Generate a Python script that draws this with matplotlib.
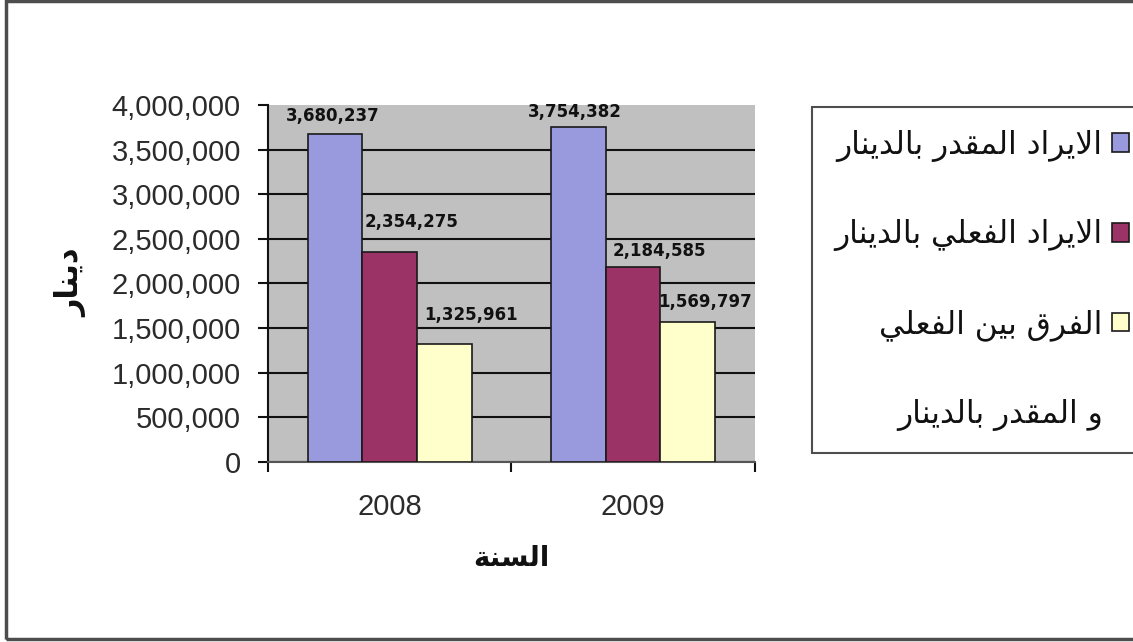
#import libraries
import matplotlib
matplotlib.use('Agg')
import matplotlib.pyplot as plt
import numpy as np
from matplotlib.patches import Rectangle, Patch

plt.rcParams['font.family'] = ['Liberation Sans', 'DejaVu Sans']

#Data Definition
years = ['2008', '2009']
estimated = [3680237, 3754382]
actual = [2354275, 2184585]
difference = [1325961, 1569797]

series_names = ['الايراد المقدر بالدينار',
                'الايراد الفعلي بالدينار',
                'الفرق بين الفعلي']
series_extra_line = 'و المقدر بالدينار'
y_title = 'دينار'
x_title = 'السنة'

#Arabic presentation forms (isolated, final, initial, medial)
FORMS = {
    'ا': ('\ufe8d', '\ufe8e', None, None),
    'ب': ('\ufe8f', '\ufe90', '\ufe91', '\ufe92'),
    'ة': ('\ufe93', '\ufe94', None, None),
    'د': ('\ufea9', '\ufeaa', None, None),
    'ر': ('\ufead', '\ufeae', None, None),
    'س': ('\ufeb1', '\ufeb2', '\ufeb3', '\ufeb4'),
    'ع': ('\ufec9', '\ufeca', '\ufecb', '\ufecc'),
    'ف': ('\ufed1', '\ufed2', '\ufed3', '\ufed4'),
    'ق': ('\ufed5', '\ufed6', '\ufed7', '\ufed8'),
    'ل': ('\ufedd', '\ufede', '\ufedf', '\ufee0'),
    'م': ('\ufee1', '\ufee2', '\ufee3', '\ufee4'),
    'ن': ('\ufee5', '\ufee6', '\ufee7', '\ufee8'),
    'و': ('\ufeed', '\ufeee', None, None),
    'ي': ('\ufef1', '\ufef2', '\ufef3', '\ufef4'),
}


def joins_next(u):
    return u != 'لا' and u in FORMS and FORMS[u][2] is not None


def shape_word(word):
    units = []
    i = 0
    while i < len(word):
        if word[i] == 'ل' and i + 1 < len(word) and word[i + 1] == 'ا':
            units.append('لا')
            i += 2
        else:
            units.append(word[i])
            i += 1
    out = []
    for k, u in enumerate(units):
        prev_j = k > 0 and joins_next(units[k - 1])
        next_j = k + 1 < len(units) and joins_next(u)
        if u == 'لا':
            out.append('\ufefc' if prev_j else '\ufefb')
            continue
        if u not in FORMS:
            out.append(u)
            continue
        iso, fin, ini, med = FORMS[u]
        if prev_j and next_j:
            out.append(med)
        elif prev_j:
            out.append(fin)
        elif next_j:
            out.append(ini)
        else:
            out.append(iso)
    return ''.join(reversed(out))


def ar(text):
    # right-to-left: last word drawn first
    return ' '.join(shape_word(w) for w in reversed(text.split(' ')))


#Create Figure
fig = plt.figure(figsize=(11.33, 6.42), dpi=100)
ax = fig.add_axes([0.2365, 0.2804, 0.4298, 0.5561])
ax.set_facecolor('#c0c0c0')

x = np.arange(len(years))
w = 0.224
colors = ['#9999dd', '#9c3366', '#ffffcc']
offsets = [-w, 0, w]
values = [estimated, actual, difference]
#label nudges in pixels (dx, dy) per series and year
label_nudge = [[(-2, 18), (-4, 15)],
               [(22, 30), (26, 16)],
               [(27, 29), (17, 20)]]

handles = []
for s in range(3):
    bars = ax.bar(x + offsets[s], values[s], w, color=colors[s],
                  edgecolor='#1a1a1a', linewidth=1.2, zorder=3)
    handles.append(bars)
    for j, v in enumerate(values[s]):
        dx, dy = label_nudge[s][j]
        ax.annotate(f'{v:,}', (x[j] + offsets[s], v), xytext=(dx, dy),
                    textcoords='offset pixels', ha='center', va='center',
                    fontsize=12, fontweight='bold', family='DejaVu Sans',
                    color='#111111', zorder=5)

#Axes appearance
ax.set_xlim(-0.5, 1.5)
ax.set_ylim(0, 4000000)
ax.set_yticks(np.arange(0, 4000001, 500000))
ax.yaxis.set_major_formatter(matplotlib.ticker.FuncFormatter(lambda v, p: f'{int(v):,}'))
ax.set_xticks(x)
ax.set_xticklabels(years)
ax.set_xticks([-0.5, 0.5, 1.5], minor=True)
ax.tick_params(axis='x', which='major', length=0, pad=22, labelsize=21, labelcolor='#2b2b2b')
ax.tick_params(axis='x', which='minor', length=7.5, width=1.5, direction='out', color='#111111')
ax.tick_params(axis='y', length=7.5, width=1.5, direction='out', pad=12,
               labelsize=21, labelcolor='#2b2b2b', color='#111111')
ax.grid(axis='y', color='#111111', linewidth=1.5)
ax.set_axisbelow(True)
ax.yaxis.get_gridlines()[-1].set_visible(False)
for side in ['top', 'right']:
    ax.spines[side].set_visible(False)
ax.spines['left'].set_linewidth(1.5)
ax.spines['left'].set_color('#111111')
ax.spines['bottom'].set_linewidth(1.5)
ax.spines['bottom'].set_color('#555555')

fig.text(0.063, 0.56, ar(y_title), rotation=90, ha='center', va='center',
         fontsize=22, fontweight='bold', family='DejaVu Sans', color='#111111')
fig.text(0.451, 0.131, ar(x_title), ha='center', va='center',
         fontsize=20, fontweight='bold', family='DejaVu Sans', color='#111111')

#Legend
blank = Patch(facecolor='none', edgecolor='none')
leg = fig.legend(handles + [blank],
                 [ar(n) for n in series_names] + [ar(series_extra_line)],
                 loc='upper left', bbox_to_anchor=(812 / 1133, 1 - 107 / 642),
                 markerfirst=False, frameon=True, fancybox=False, fontsize=22.5,
                 handlelength=0.55, handleheight=0.55, handletextpad=0.3,
                 labelspacing=1.85, borderpad=0.72, borderaxespad=0)
leg.get_frame().set_edgecolor('#222222')
leg.get_frame().set_linewidth(1.5)
for t in leg.get_texts():
    t.set_family('DejaVu Sans')
    t.set_color('#111111')

#Outer border
fig.patches.append(Rectangle((0.005, 0.005), 1.2, 0.993, transform=fig.transFigure,
                             fill=False, linewidth=2.5, edgecolor='#4d4d4d'))

#Save Plot
plt.savefig('out.png', dpi=100)
